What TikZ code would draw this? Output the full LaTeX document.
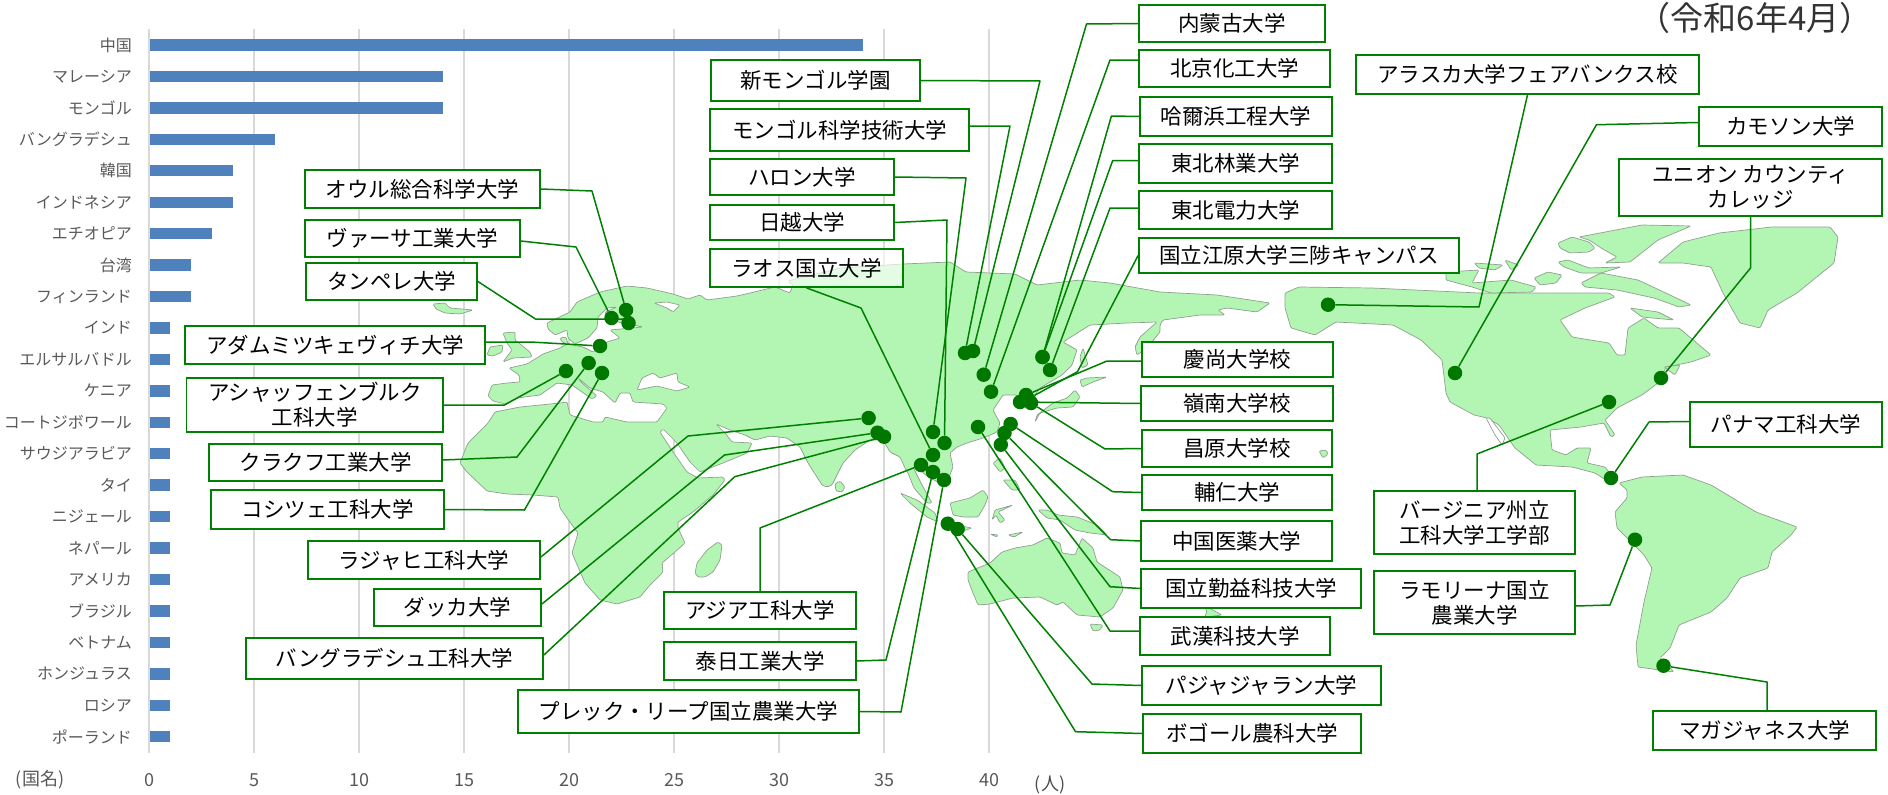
\documentclass[tikz,border=0pt]{standalone}
\usepackage{fontspec}
\setmainfont{Noto Sans CJK JP}
\usetikzlibrary{calc}
\definecolor{barblue}{HTML}{4F81BD}
\definecolor{gridgray}{HTML}{D9D9D9}
\definecolor{axisgray}{HTML}{595959}
\definecolor{mapgreen}{HTML}{B3F6B3}
\definecolor{mapedge}{HTML}{8FA08F}
\definecolor{linegreen}{HTML}{008000}
\definecolor{dotgreen}{HTML}{007800}
\pgfdeclarelayer{top}
\pgfsetlayers{main,top}
\tikzset{
  gridline/.style={draw=gridgray,line width=1.3pt},
  chartbar/.style={fill=barblue,draw=none},
  catlabel/.style={anchor=east,inner sep=0pt,text=axisgray,font=\fontsize{16}{18}\selectfont},
  ticklabel/.style={inner sep=0pt,text=axisgray,font=\fontsize{18}{20}\selectfont},
  land/.style={fill=mapgreen,draw=mapedge,line width=0.7pt,line join=round,rounded corners=1.2pt},
  sea/.style={fill=white,draw=mapedge,line width=0.7pt,line join=round,rounded corners=1.2pt},
  unibox/.style={draw=linegreen,line width=1.8pt,fill=white,inner sep=0pt,align=center,text=black,font=\fontsize{21.5}{25}\selectfont},
  udot/.style={circle,fill=dotgreen,draw=none,minimum size=14.5pt,inner sep=0pt},
  conn/.style={draw=linegreen,line width=1.5pt,line join=round}
}
\newcommand{\ubox}[7][]{\node[unibox,#1,minimum width={(#5-#3)*1pt},minimum height={(#6-#4)*1pt}] (#2) at ({(#3+#5)/2},{(#4+#6)/2}) {\raisebox{4pt}{\parbox{\dimexpr#5pt-#3pt\relax}{\centering #7}}};}
\newcommand{\udotat}[3]{\node[udot] (#1) at (#2,#3) {};}
\begin{document}
\begin{tikzpicture}[x=1pt,y=-1pt]
\useasboundingbox (0,0) rectangle (1888,795);
% grid
\foreach \v in {0,5,...,40}{
  \draw[gridline] ({149+21*\v},29) -- ({149+21*\v},753);
  \node[ticklabel] (tick\v) at ({149+21*\v},780) {\v};
}
% bars and category labels
\foreach \i/\n/\v in {0/中国/34,1/マレーシア/14,2/モンゴル/14,3/バングラデシュ/6,4/韓国/4,5/インドネシア/4,6/エチオピア/3,7/台湾/2,8/フィンランド/2,9/インド/1,10/エルサルバドル/1,11/ケニア/1,12/コートジボワール/1,13/サウジアラビア/1,14/タイ/1,15/ニジェール/1,16/ネパール/1,17/アメリカ/1,18/ブラジル/1,19/ベトナム/1,20/ホンジュラス/1,21/ロシア/1,22/ポーランド/1}{
  \fill[chartbar] (150,{45+31.44*\i-5.7}) rectangle ({149+21*\v},{45+31.44*\i+5.7});
  \node[catlabel] (cat\i) at (132,{45+31.44*\i}) {\n};
}
\node[ticklabel] (kokumei) at (40,780) {(国名)};
\node[ticklabel,text=black!70] (nin) at (1050,785) {(人)};
\node[inner sep=0pt,text=black!80,font=\fontsize{33}{36}\selectfont] (date) at (1755,17.5) {（令和6年4月）};
% map: Afro-Eurasia
\filldraw[land] (505,404)--(493,401)--(488,396)--(492,385)--(507,383)--(520,382)--(519,375)--(509,368)--(527,364)--(543,354)--(560,348)--(567,344)--(562,342)--(560,338)--(566,337)--(568,344)--(583,347)--(593,352)--(607,342)--(620,338)--(610,330)--(643,327)--(623,323)--(608,320)--(605,312)--(617,307)--(607,308)--(598,317)--(597,328)--(588,338)--(575,344)--(568,338)--(567,330)--(555,335)--(548,329)--(547,323)--(570,312)--(577,302)--(600,292)--(627,286)--(647,288)--(673,294)--(688,299)--(700,295)--(707,300)--(737,296)--(750,293)--(775,287)--(790,293)--(793,285)--(788,281)--(840,268)--(903,264)--(950,262)--(966,272)--(1015,274)--(1037,285)--(1080,280)--(1110,283)--(1160,292)--(1217,295)--(1250,300)--(1270,303)--(1257,312)--(1227,308)--(1218,310)--(1225,315)--(1200,315)--(1163,320)--(1160,325)--(1160,332)--(1147,348)--(1137,355)--(1135,347)--(1140,337)--(1157,322)--(1127,323)--(1090,325)--(1063,342)--(1077,350)--(1072,365)--(1062,375)--(1040,388)--(1035,395)--(1036,403)--(1032,407)--(1018,405)--(1017,395)--(1003,395)--(993,410)--(1000,423)--(997,432)--(983,438)--(967,443)--(957,447)--(950,453)--(953,467)--(948,480)--(940,483)--(928,477)--(920,470)--(913,467)--(922,485)--(932,503)--(927,503)--(914,488)--(908,473)--(905,468)--(900,457)--(890,452)--(883,440)--(870,440)--(855,450)--(843,463)--(832,485)--(827,487)--(822,485)--(808,463)--(800,447)--(787,438)--(770,436)--(755,440)--(745,435)--(730,430)--(716,424)--(725,433)--(732,442)--(752,443)--(747,453)--(723,463)--(700,472)--(690,462)--(677,443)--(663,429)--(660,432)--(673,452)--(687,472)--(698,478)--(723,477)--(725,480)--(713,495)--(693,512)--(678,522)--(678,528)--(685,543)--(675,552)--(662,563)--(663,572)--(650,585)--(640,597)--(617,604)--(600,600)--(585,583)--(572,553)--(578,533)--(572,525)--(560,508)--(558,497)--(533,495)--(507,494)--(487,491)--(467,472)--(460,463)--(468,443)--(488,423)--(495,412)--(520,407)--(560,403)--(567,402)--(570,415)--(593,422)--(603,422)--(605,417)--(627,422)--(657,422)--(667,408)--(663,404)--(633,402)--(630,393)--(620,393)--(615,403)--(603,392)--(590,388)--(578,378)--(582,383)--(597,396)--(592,399)--(572,385)--(557,383)--(540,395)--(517,398)--cycle;
\filldraw[sea] (637,390)--(642,378)--(653,373)--(660,378)--(677,373)--(678,382)--(690,387)--(677,391)--(657,386)--cycle;
\filldraw[sea] (654,303)--(667,302)--(680,305)--(673,312)--(667,308)--cycle;
% map: islands of the old world
\filldraw[land] (433,304)--(445,303)--(450,308)--(473,310)--(460,314)--(445,313)--(436,309)--cycle;
\filldraw[land] (487,355)--(490,347)--(503,345)--(502,352)--(493,356)--cycle;
\filldraw[land] (503,333)--(515,332)--(515,340)--(530,352)--(532,357)--(513,358)--(503,362)--(512,350)--(507,343)--cycle;
\filldraw[land] (695,573)--(697,563)--(707,550)--(718,542)--(722,545)--(720,560)--(713,572)--(705,577)--(698,577)--cycle;
\filldraw[land] (835,484)--(840,481)--(845,487)--(842,492)--(836,491)--cycle;
\filldraw[land] (1083,348)--(1088,365)--(1082,368)--(1080,357)--cycle;
\filldraw[land] (1080,380)--(1087,378)--(1107,377)--(1093,382)--(1082,387)--cycle;
\filldraw[land] (1075,390)--(1080,397)--(1073,407)--(1057,408)--(1040,413)--(1035,422)--(1037,415)--(1053,403)--(1067,398)--cycle;
\filldraw[land] (993,463)--(1000,458)--(1005,468)--(1000,472)--cycle;
\filldraw[land] (1003,480)--(1015,480)--(1020,490)--(1012,490)--cycle;
\filldraw[land] (900,493)--(917,500)--(935,513)--(938,522)--(927,517)--(910,503)--cycle;
\filldraw[land] (942,523)--(955,525)--(972,528)--(960,532)--(945,529)--cycle;
\filldraw[land] (950,503)--(970,498)--(983,490)--(988,497)--(985,505)--(978,517)--(963,517)--(953,515)--cycle;
\filldraw[land] (992,520)--(995,510)--(1013,505)--(998,512)--(1005,520)--(1000,523)--(996,515)--cycle;
\filldraw[land] (990,534)--(998,535)--(997,537)--cycle;
\filldraw[land] (1008,535)--(1023,532)--(1014,537)--cycle;
\filldraw[land] (1038,510)--(1047,510)--(1058,515)--(1077,517)--(1097,525)--(1107,535)--(1090,533)--(1075,530)--(1060,520)--(1047,518)--cycle;
\filldraw[land] (968,572)--(990,563)--(1002,552)--(1015,548)--(1033,545)--(1047,538)--(1060,543)--(1062,553)--(1075,555)--(1082,538)--(1093,548)--(1097,562)--(1120,577)--(1123,590)--(1113,608)--(1100,617)--(1077,615)--(1063,602)--(1057,605)--(1040,597)--(1013,598)--(990,604)--(978,605)--(973,593)--(968,580)--cycle;
\filldraw[land] (1090,624)--(1103,625)--(1100,630)--(1093,631)--cycle;
\filldraw[land] (1197,603)--(1209,608)--(1222,615)--(1205,617)--(1207,610)--cycle;
% map: North America
\filldraw[land] (1285,293)--(1299,287)--(1372,288)--(1479,293)--(1536,293)--(1609,293)--(1615,297)--(1585,308)--(1560,320)--(1572,337)--(1609,343)--(1617,355)--(1625,355)--(1628,328)--(1644,318)--(1658,328)--(1679,328)--(1711,355)--(1691,362)--(1666,367)--(1658,383)--(1642,395)--(1617,408)--(1605,420)--(1615,435)--(1611,437)--(1604,423)--(1581,427)--(1550,430)--(1552,450)--(1566,455)--(1577,448)--(1591,448)--(1587,463)--(1605,467)--(1617,482)--(1609,482)--(1595,473)--(1572,467)--(1536,465)--(1515,448)--(1499,425)--(1487,418)--(1474,415)--(1450,402)--(1446,393)--(1442,360)--(1421,340)--(1393,325)--(1336,322)--(1315,335)--(1291,328)--(1285,308)--cycle;
\filldraw[sea] (1486,418)--(1490,418)--(1505,438)--(1502,445)--(1495,435)--cycle;
\filldraw[land] (1446,272)--(1479,270)--(1472,283)--(1511,280)--(1536,287)--(1532,292)--(1491,293)--(1472,287)--(1446,280)--cycle;
\filldraw[land] (1474,263)--(1503,265)--(1495,270)--(1479,268)--cycle;
\filldraw[land] (1505,260)--(1519,265)--(1511,270)--cycle;
\filldraw[land] (1534,278)--(1548,272)--(1562,275)--(1556,283)--(1540,285)--cycle;
\filldraw[land] (1558,243)--(1572,237)--(1589,242)--(1595,248)--(1589,252)--(1570,253)--(1560,248)--cycle;
\filldraw[land] (1579,237)--(1642,225)--(1691,226)--(1658,240)--(1630,262)--(1605,263)--(1617,257)--(1601,248)--(1589,240)--cycle;
\filldraw[land] (1558,262)--(1568,260)--(1589,268)--(1621,267)--(1601,273)--(1581,273)--(1564,267)--cycle;
\filldraw[land] (1581,283)--(1601,273)--(1638,280)--(1670,295)--(1691,305)--(1679,307)--(1654,298)--(1617,290)--(1585,287)--cycle;
\filldraw[land] (1630,308)--(1658,312)--(1674,320)--(1642,317)--cycle;
\filldraw[land] (1664,367)--(1680,365)--(1675,375)--cycle;
\filldraw[land] (1658,263)--(1683,242)--(1719,233)--(1772,227)--(1830,227)--(1838,237)--(1834,263)--(1797,293)--(1768,310)--(1760,328)--(1740,323)--(1723,293)--(1711,267)--(1683,263)--cycle;
% map: South America
\filldraw[land] (1619,483)--(1642,477)--(1683,475)--(1711,485)--(1756,512)--(1797,527)--(1791,535)--(1772,552)--(1768,568)--(1740,578)--(1727,598)--(1711,612)--(1679,625)--(1670,648)--(1660,658)--(1674,672)--(1638,667)--(1636,645)--(1644,602)--(1652,568)--(1644,555)--(1617,528)--(1615,512)--(1627,498)--(1627,490)--cycle;
\begin{pgfonlayer}{top}
% left boxes
\ubox{oulu}{305}{170}{540}{208}{オウル総合科学大学}
\ubox{vaasa}{305}{220}{520}{257}{ヴァーサ工業大学}
\ubox{tampere}{306}{263}{477}{300}{タンペレ大学}
\ubox{adam}{185}{326}{485}{364}{アダムミツキェヴィチ大学}
\ubox{ashaff}{186.5}{378}{443}{432}{アシャッフェンブルク\\工科大学}
\ubox{krakow}{209}{444}{442}{481}{クラクフ工業大学}
\ubox{kosice}{211}{490}{444}{529}{コシツェ工科大学}
\ubox{rajshahi}{308}{541}{540}{579}{ラジャヒ工科大学}
\ubox{dhaka}{374}{589}{541}{626}{ダッカ大学}
\ubox{buet}{246}{638}{543}{679}{バングラデシュ工科大学}
\ubox{prek}{518}{690}{859}{733}{プレック・リープ国立農業大学}
\ubox{ait}{664}{592}{856}{629}{アジア工科大学}
\ubox{thainichi}{664}{642}{856}{680}{泰日工業大学}
% centre boxes
\ubox{shinmongol}{711}{60}{920}{101}{新モンゴル学園}
\ubox{mongolst}{710}{109}{969}{151}{モンゴル科学技術大学}
\ubox{halong}{710}{159}{894}{195}{ハロン大学}
\ubox{nichietsu}{710}{205}{894}{240}{日越大学}
\ubox[fill opacity=0.65,text opacity=1,draw opacity=1]{laos}{710}{249}{903}{287}{ラオス国立大学}
% east asia boxes
\ubox{naimon}{1139}{5}{1325}{42}{内蒙古大学}
\ubox{beijing}{1139}{50}{1330}{87}{北京化工大学}
\ubox{harbin}{1140}{97}{1332}{136}{哈爾浜工程大学}
\ubox{nefu}{1139}{144}{1332}{183}{東北林業大学}
\ubox{neepu}{1139}{191}{1332}{229}{東北電力大学}
\ubox{kangwon}{1139}{238}{1459}{273}{国立江原大学三陟キャンパス}
\ubox{gyeongsang}{1142}{342}{1333}{377}{慶尚大学校}
\ubox{yeungnam}{1141}{386}{1333}{421}{嶺南大学校}
\ubox{changwon}{1142}{430}{1332}{467}{昌原大学校}
\ubox{fujen}{1142}{475}{1332}{510}{輔仁大学}
\ubox{cmu}{1141}{521}{1332}{561}{中国医薬大学}
\ubox{ncut}{1141}{569}{1361}{608}{国立勤益科技大学}
\ubox{wust}{1140}{617}{1330}{655}{武漢科技大学}
\ubox{padjadjaran}{1142}{666}{1381}{705}{パジャジャラン大学}
\ubox{bogor}{1143}{714}{1361}{753}{ボゴール農科大学}
% american boxes
\ubox{alaska}{1356}{55}{1699}{94}{アラスカ大学フェアバンクス校}
\ubox{camosun}{1699}{107}{1882}{146}{カモソン大学}
\ubox{union}{1619}{159}{1882}{216}{ユニオン カウンティ\\カレッジ}
\ubox{panama}{1690}{402}{1882}{447}{パナマ工科大学}
\ubox{virginia}{1374}{491}{1575}{554}{バージニア州立\\工科大学工学部}
\ubox{molina}{1374}{571}{1575}{634}{ラモリーナ国立\\農業大学}
\ubox{magallanes}{1653}{711}{1876}{750}{マガジャネス大学}
% small island showing through a box
\filldraw[land] (1319,451)--(1326,450)--(1328,454)--(1323,458)--cycle;
% dots
\udotat{dOulu}{626}{310}
\udotat{dVaasa}{611.5}{318}
\udotat{dTampere}{628.5}{323}
\udotat{dAdam}{600}{346}
\udotat{dAshaff}{566}{371}
\udotat{dKrakow}{588.6}{363}
\udotat{dKosice}{602}{373}
\udotat{dRajshahi}{868.6}{418}
\udotat{dDhaka}{877.5}{432.7}
\udotat{dBuet}{884}{436.7}
\udotat{dAit}{921}{465}
\udotat{dThainichi}{933}{472}
\udotat{dPrek}{944}{480}
\udotat{dHalong}{933}{432}
\udotat{dNichietsu}{944.5}{443}
\udotat{dLaos}{933}{455}
\udotat{dShinmongol}{973}{351}
\udotat{dMongolst}{965}{353}
\udotat{dNaimon}{983.7}{374.7}
\udotat{dBeijing}{991}{391.7}
\udotat{dHarbin}{1042.5}{357}
\udotat{dNefu}{1042.5}{357}
\udotat{dNeepu}{1050}{370}
\udotat{dKangwon}{1028}{399}
\udotat{dGyeongsang}{1026}{395}
\udotat{dYeungnam}{1020}{402}
\udotat{dChangwon}{1031}{403}
\udotat{dFujen}{1010.6}{424}
\udotat{dCmu}{1004.5}{433}
\udotat{dNcut}{1000.8}{444.7}
\udotat{dWust}{978}{427}
\udotat{dPadjadjaran}{957.6}{529}
\udotat{dBogor}{947.8}{523.7}
\udotat{dAlaska}{1328}{304.7}
\udotat{dCamosun}{1455}{373}
\udotat{dUnion}{1661}{378}
\udotat{dVirginia}{1609}{402}
\udotat{dPanama}{1611}{478}
\udotat{dMolina}{1635}{539.7}
\udotat{dMagallanes}{1663.5}{665.7}
\end{pgfonlayer}
% connectors
\draw[conn] (oulu.east) -- (592,191) -- (dOulu);
\draw[conn] ($(vaasa.east)+(0,2.5)$) -- (576,247) -- (dVaasa);
\draw[conn] (tampere.east) -- (535.5,319) -- (628,319) -- (dTampere);
\draw[conn] ($(adam.east)+(0,-3)$) -- (530.6,342) -- (dAdam);
\draw[conn] (ashaff.east) -- (504.5,405) -- (dAshaff);
\draw[conn] ($(krakow.east)+(0,-2.5)$) -- (517,457) -- (dKrakow);
\draw[conn] (kosice.east) -- (524.5,510) -- (dKosice);
\draw[conn] ($(rajshahi.east)+(0,-3)$) -- (688,436) -- (dRajshahi);
\draw[conn] ($(dhaka.east)+(0,-3.5)$) -- (724.5,455) -- (dDhaka);
\draw[conn] ($(buet.east)+(0,-3.5)$) -- (734.7,476.7) -- (dBuet);
\draw[conn] (ait.north) -- (760,528) -- (dAit);
\draw[conn] (thainichi.east) -- (886,660) -- (dThainichi);
\draw[conn] (prek.east) -- (901,712) -- (dPrek);
\draw[conn] (halong.east) -- (966,178) -- (dHalong);
\draw[conn] (nichietsu.east) -- (947,220) -- (dNichietsu);
\draw[conn] (laos.south) -- (861,308) -- (dLaos);
\draw[conn] (shinmongol.east) -- (1040,81) -- (dShinmongol);
\draw[conn] ($(mongolst.east)+(0,-4)$) -- (1010,126) -- (dMongolst);
\draw[conn] (naimon.west) -- (1086.5,24) -- (dNaimon);
\draw[conn] ($(beijing.west)+(0,-8.5)$) -- (1110,60) -- (dBeijing);
\draw[conn] (harbin.west) -- (1111.4,116) -- (dHarbin);
\draw[conn] ($(nefu.west)+(0,-2.8)$) -- (1112.6,160.7) -- (dNefu);
\draw[conn] ($(neepu.west)+(0,-2)$) -- (1110,208) -- (dNeepu);
\draw[conn] (kangwon.west) -- (1077.5,371.7) -- (dKangwon);
\draw[conn] ($(gyeongsang.west)+(0,1.5)$) -- (1107,361) -- (dGyeongsang);
\draw[conn] (yeungnam.west) -- (dYeungnam);
\draw[conn] (changwon.west) -- (1105,449) -- (dChangwon);
\draw[conn] (fujen.west) -- (1112.6,491.7) -- (dFujen);
\draw[conn] (cmu.west) -- (1110.6,539.7) -- (dCmu);
\draw[conn] (ncut.west) -- (1110,586.7) -- (dNcut);
\draw[conn] ($(wust.west)+(0,-5)$) -- (1110,631) -- (dWust);
\draw[conn] (padjadjaran.west) -- (1092,684) -- (dPadjadjaran);
\draw[conn] (bogor.west) -- (1075.5,731.7) -- (dBogor);
\draw[conn] (alaska.south) -- (1479,307) -- (dAlaska);
\draw[conn] ($(camosun.west)+(0,-4)$) -- (1596.5,124.7) -- (dCamosun);
\draw[conn] (union.south) -- (1750.5,268) -- (dUnion);
\draw[conn] ($(virginia.north)+(2.5,0)$) -- (1477,454) -- (dVirginia);
\draw[conn] ($(panama.west)+(0,-3)$) -- (1649,422) -- (dPanama);
\draw[conn] ($(molina.east)+(0,3.5)$) -- (1610,605) -- (dMolina);
\draw[conn] ($(magallanes.north)+(2.5,0)$) -- (1767,682) -- (dMagallanes);
\end{tikzpicture}
\end{document}
